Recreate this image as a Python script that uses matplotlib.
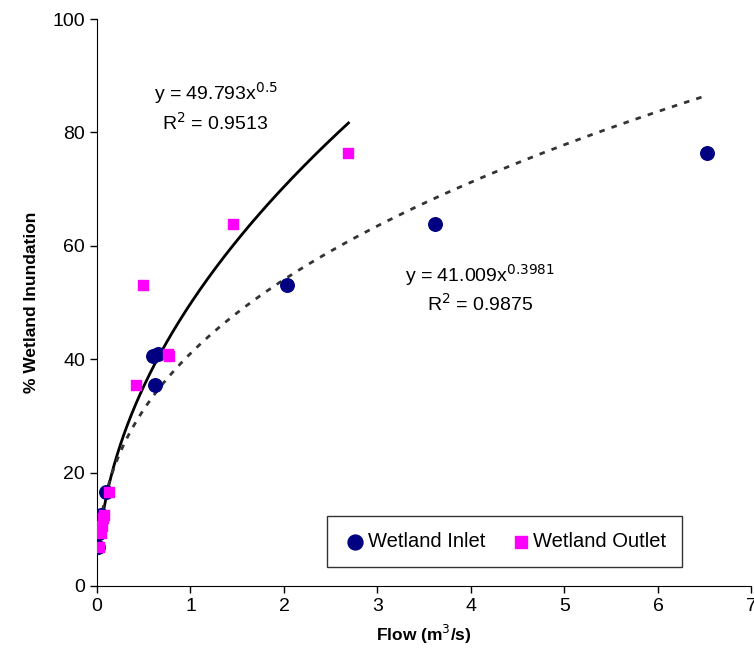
import numpy as np
import matplotlib.pyplot as plt

plt.rcParams['font.family'] = ['Liberation Sans', 'DejaVu Sans']

# Wetland inlet: flow (m3/s) vs % inundation
inlet_flow = [6.52, 3.62, 2.03, 0.65, 0.60, 0.62, 0.10, 0.04, 0.03, 0.02, 0.01]
inlet_inund = [76.3, 63.8, 53.1, 41.0, 40.5, 35.4, 16.6, 12.5, 10.6, 9.3, 6.9]

# Wetland outlet
outlet_flow = [2.69, 1.45, 0.49, 0.76, 0.77, 0.42, 0.13, 0.07, 0.06, 0.05, 0.04, 0.02]
outlet_inund = [76.3, 63.8, 53.1, 41.0, 40.5, 35.4, 16.6, 12.5, 12.0, 10.6, 9.3, 6.9]

# power trendlines y = a * x^b
outlet_a, outlet_b = 49.793, 0.5
inlet_a, inlet_b = 41.009, 0.3981

fig = plt.figure(figsize=(7.54, 6.7), dpi=100)
ax = fig.add_axes([0.1286, 0.1254, 0.868, 0.8462])

x1 = np.linspace(min(outlet_flow), max(outlet_flow), 300)
ax.plot(x1, outlet_a * x1**outlet_b, color='black', lw=2.0, zorder=2)
x2 = np.linspace(min(inlet_flow), max(inlet_flow), 400)
ax.plot(x2, inlet_a * x2**inlet_b, color='#333333', lw=2.0,
        dashes=(2.0, 2.6), zorder=2)

ax.scatter(inlet_flow, inlet_inund, s=95, marker='o', color='#000080',
           label='Wetland Inlet', zorder=3)
ax.scatter(outlet_flow, outlet_inund, s=55, marker='s', color='#FF00FF',
           label='Wetland Outlet', zorder=4)

ax.text(1.27, 84.5, 'y = 49.793x$^{0.5}$\nR$^2$ = 0.9513', ha='center',
        va='center', fontsize=14, linespacing=1.3)
ax.text(4.1, 52.5, 'y = 41.009x$^{0.3981}$\nR$^2$ = 0.9875', ha='center',
        va='center', fontsize=14, linespacing=1.3)

ax.set_xlim(0, 7)
ax.set_ylim(0, 100)
ax.set_xticks(range(0, 8))
ax.set_yticks(range(0, 101, 20))
ax.tick_params(labelsize=14, direction='out', length=5, width=1)
for s in ['top', 'right']:
    ax.spines[s].set_visible(False)

ax.set_xlabel('Flow (m$^3$/s)', fontsize=12.5, fontweight='bold', labelpad=6)
ax.set_ylabel('% Wetland Inundation', fontsize=12.5, fontweight='bold', labelpad=10)

leg = ax.legend(loc='lower right', bbox_to_anchor=(0.91, 0.015), ncol=2,
                fontsize=14.5, frameon=True, fancybox=False, edgecolor='black',
                handletextpad=0.0, columnspacing=1.2, borderpad=0.8,
                handlelength=1.2, markerscale=1.1)
leg.get_frame().set_linewidth(1.0)

plt.savefig('out.png', dpi=100)
